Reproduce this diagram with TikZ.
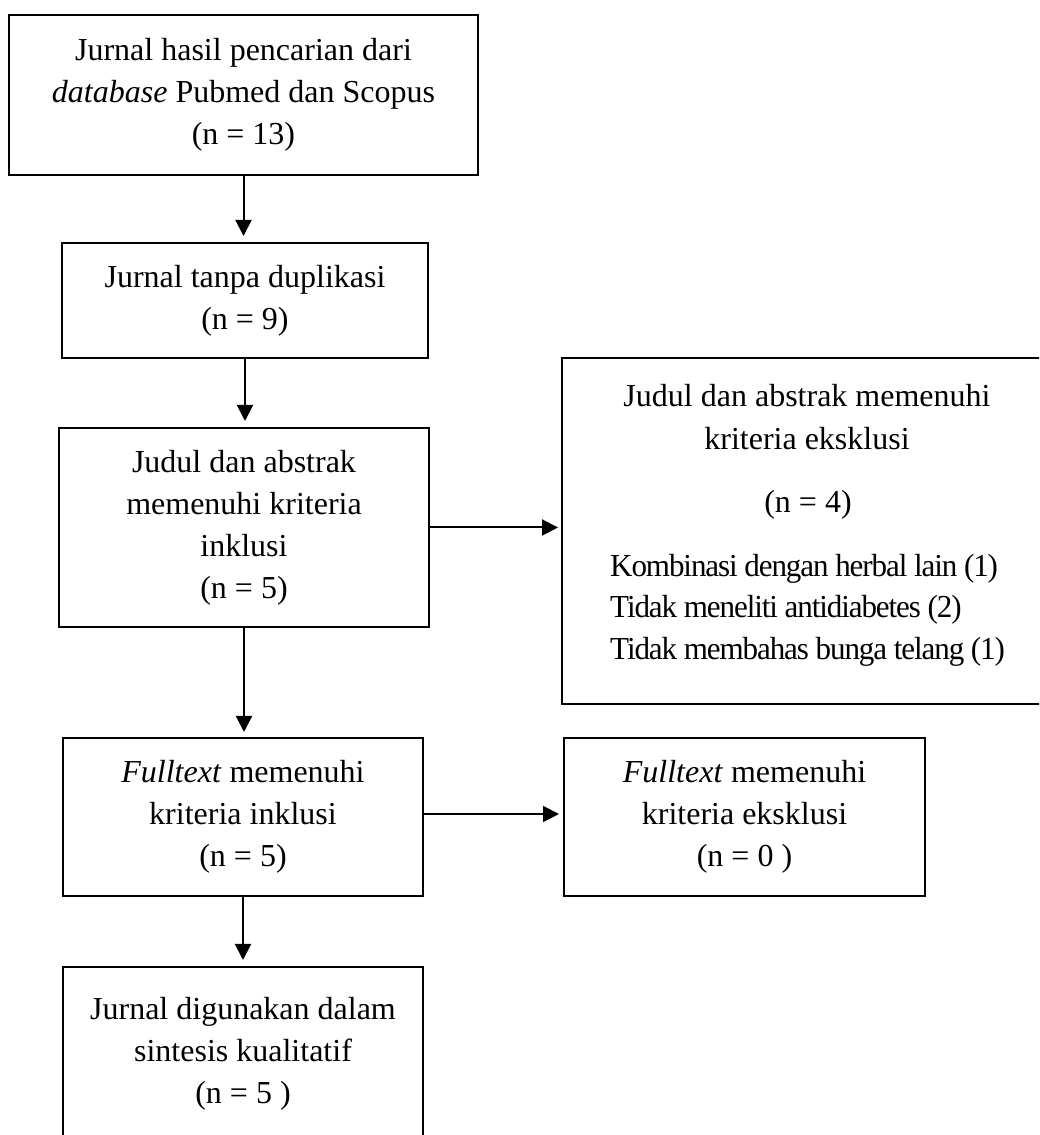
\documentclass[tikz,border=0pt]{standalone}
\usepackage{fontspec}
\setmainfont{Liberation Serif}
\newfontfamily\condensedfont[FakeStretch=0.97,LetterSpace=-3.4]{Liberation Serif}
\usetikzlibrary{arrows.meta}
\tikzset{
  flowbox/.style={draw, line width=2pt, rectangle, align=center, inner sep=0pt,
    font=\fontsize{32}{42}\selectfont},
  flowarrow/.style={line width=2pt, -{Triangle[length=16pt,width=16pt]}},
  plaintext/.style={inner sep=0pt, anchor=base, font=\fontsize{32}{42}\selectfont},
  listtext/.style={inner sep=0pt, anchor=base west, font=\fontsize{32}{42}\condensedfont},
}
\begin{document}
\begin{tikzpicture}[x=1pt,y=1pt]
\fill[white] (0,0) rectangle (1039,1135);
\clip (0,0) rectangle (1039,1135);
% boxes (y = 1135 - image y)
\node[flowbox, minimum width=469pt, minimum height=160pt] (b1) at (243.5,1040)
  {Jurnal hasil pencarian dari\\ \textit{database} Pubmed dan Scopus\\ (n = 13)};
\node[flowbox, minimum width=366pt, minimum height=115pt] (b2) at (245,834.5)
  {Jurnal tanpa duplikasi\\ (n = 9)};
\node[flowbox, minimum width=370pt, minimum height=199pt] (b3) at (244,607.5)
  {Judul dan abstrak\\ memenuhi kriteria\\ inklusi\\ (n = 5)};
\node[flowbox, minimum width=360pt, minimum height=158pt] (b4) at (243,318)
  {\textit{Fulltext} memenuhi\\ kriteria inklusi\\ (n = 5)};
\node[flowbox, minimum width=361pt, minimum height=158pt] (b5) at (744.5,318)
  {\textit{Fulltext} memenuhi\\ kriteria eksklusi\\ (n = 0 )};
\node[flowbox, minimum width=360pt, minimum height=173pt] (b6) at (243,81.5)
  {Jurnal digunakan dalam\\ sintesis kualitatif\\ (n = 5 )};
% right exclusion box (extends past the right edge)
\node[flowbox, minimum width=493pt, minimum height=346pt] (r) at (808.5,604) {};
\node[plaintext] (ra) at (807,728) {Judul dan abstrak memenuhi};
\node[plaintext] (rb) at (807,685) {kriteria eksklusi};
\node[plaintext] (rn) at (808,622) {(n = 4)};
\node[listtext] (e1) at (610,558) {Kombinasi dengan herbal lain (1)};
\node[listtext] (e2) at (610,517) {Tidak meneliti antidiabetes (2)};
\node[listtext] (e3) at (610,475) {Tidak membahas bunga telang (1)};
% connectors
\draw[flowarrow, shorten >=6pt] (b1.south) -- (b1.south |- b2.north);
\draw[flowarrow, shorten >=6pt] (b2.south) -- (b2.south |- b3.north);
\draw[flowarrow, shorten >=5pt] (b3.south) -- (b3.south |- b4.north);
\draw[flowarrow, shorten >=6pt] (b4.south) -- (b4.south |- b6.north);
\draw[flowarrow, shorten >=3pt] (b3.east) -- (b3.east -| r.west);
\draw[flowarrow, shorten >=4pt] ([yshift=3pt]b4.east) -- ([yshift=3pt]b4.east -| b5.west);
\end{tikzpicture}
\end{document}
